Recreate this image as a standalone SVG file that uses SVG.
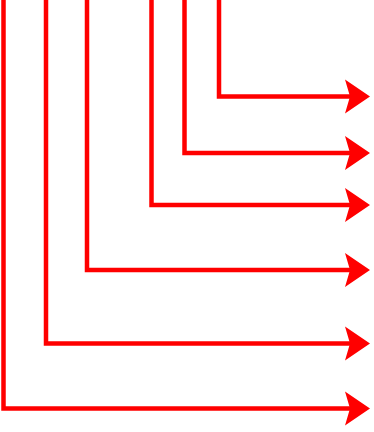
<svg xmlns="http://www.w3.org/2000/svg" width="374" height="432" viewBox="0 0 374 432">
<style>
.c{fill:none;stroke:#ff0000;stroke-width:4.5;stroke-linejoin:miter}
</style>
<defs>
<marker id="ah" markerUnits="userSpaceOnUse" markerWidth="40" markerHeight="40" refX="0" refY="0" orient="auto" overflow="visible">
<path d="M-7,-17 L18,0 L-7,17 L-2,0 Z" fill="#ff0000"/>
</marker>
</defs>
<rect width="374" height="432" fill="#ffffff"/>
<g id="connectors">
<path class="c" d="M219,0 V96.5 H352" marker-end="url(#ah)"/>
<path class="c" d="M184.5,0 V153 H352" marker-end="url(#ah)"/>
<path class="c" d="M151.5,0 V205 H352" marker-end="url(#ah)"/>
<path class="c" d="M87,0 V270 H352" marker-end="url(#ah)"/>
<path class="c" d="M46,0 V343.5 H352" marker-end="url(#ah)"/>
<path class="c" d="M3.5,0 V408.5 H352" marker-end="url(#ah)"/>
</g>
</svg>
